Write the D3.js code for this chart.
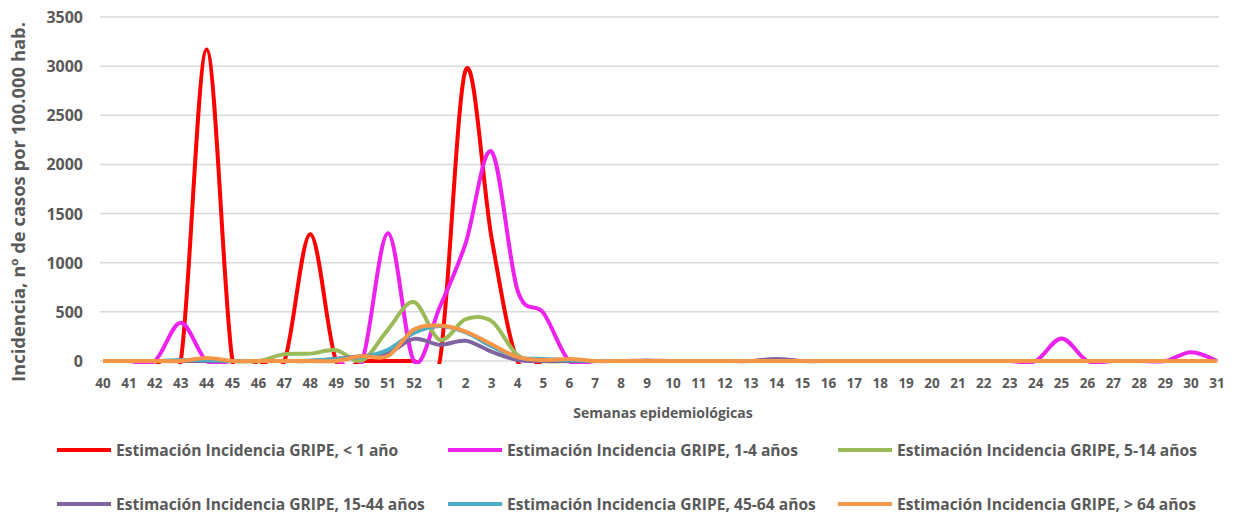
<!DOCTYPE html>
<html>
<head>
<meta charset="utf-8">
<script src="https://cdn.jsdelivr.net/npm/d3@7"></script>
<style>
  body { margin: 0; background: #fff; }
  text { font-family: "Open Sans", Lato, sans-serif; font-weight: bold; fill: #595959; }
</style>
</head>
<body>
<script>
// semanas epidemiológicas (40..52 y 1..31)
const semanas = [40,41,42,43,44,45,46,47,48,49,50,51,52,1,2,3,4,5,6,7,8,9,10,11,12,13,14,15,16,17,18,19,20,21,22,23,24,25,26,27,28,29,30,31];

// incidencia por grupo de edad
const menor1  = [0,0,0,0,3170,0,0,0,1290,0,0,0,0,0,2960,1250,0,0,0,0,0,0,0,0,0,0,0,0,0,0,0,0,0,0,0,0,0,0,0,0,0,0,0,0];
const de1a4   = [0,0,0,390,0,0,0,0,0,0,0,1300,0,550,1200,2130,720,490,0,0,0,0,0,0,0,0,0,0,0,0,0,0,0,0,0,0,0,230,0,0,0,0,90,0];
const de5a14  = [0,0,0,0,0,0,0,70,75,110,5,320,600,215,425,405,60,0,0,0,0,0,0,0,0,0,0,0,0,0,0,0,0,0,0,0,0,0,0,0,0,0,0,0];
const de15a44 = [0,0,0,0,0,0,0,0,0,20,50,80,225,165,205,95,10,0,0,0,0,5,0,0,0,0,20,0,0,0,0,0,0,0,0,0,0,0,0,0,0,0,0,0];
const de45a64 = [0,0,0,10,10,0,0,0,5,20,40,115,285,355,290,150,40,20,10,0,0,0,0,0,0,0,0,0,0,0,0,0,0,0,0,0,0,0,0,0,0,0,0,0];
const mayor64 = [0,0,0,0,30,0,0,0,0,0,50,50,320,360,300,170,40,10,20,0,0,0,0,0,0,0,0,0,0,0,0,0,0,0,0,0,0,0,0,0,0,0,0,0];

const nombres = ["Estimación Incidencia GRIPE, < 1 año","Estimación Incidencia GRIPE, 1-4 años","Estimación Incidencia GRIPE, 5-14 años",
                 "Estimación Incidencia GRIPE, 15-44 años","Estimación Incidencia GRIPE, 45-64 años","Estimación Incidencia GRIPE, > 64 años"];
const colores = ["#FF0000","#EE22EE","#9BBB59","#8064A2","#4BACC6","#F79646"];
const series = [menor1, de1a4, de5a14, de15a44, de45a64, mayor64];
const ticksY = [0,500,1000,1500,2000,2500,3000,3500];

const W = 1235, H = 513;
const svg = d3.select("body").append("svg").attr("width", W).attr("height", H);

const x = d3.scalePoint().domain(d3.range(semanas.length)).range([103, 1217]);
const y = d3.scaleLinear().domain([0, 3500]).range([361, 17]);

// recorte del área de trazado (como Excel)
svg.append("clipPath").attr("id", "zona")
  .append("rect").attr("x", 95).attr("y", 0).attr("width", 1130).attr("height", 364);

// grilla
svg.append("g").selectAll("line").data(ticksY).join("line")
  .attr("x1", 100).attr("x2", 1219)
  .attr("y1", d => y(d)).attr("y2", d => y(d))
  .attr("stroke", "#D9D9D9").attr("stroke-width", 1.5);

// eje Y
svg.append("g").selectAll("text").data(ticksY).join("text")
  .attr("x", 83).attr("y", d => y(d) + 6)
  .attr("text-anchor", "end").style("font-size", "16px")
  .text(d => d);

// eje X
svg.append("g").selectAll("text").data(semanas).join("text")
  .attr("x", (d, i) => x(i)).attr("y", 388)
  .attr("text-anchor", "middle").style("font-size", "13.5px")
  .text(d => d);

svg.append("text").attr("x", 663).attr("y", 418).attr("text-anchor", "middle")
  .style("font-size", "14px").text("Semanas epidemiológicas");

svg.append("text").attr("transform", "translate(25,202) rotate(-90)")
  .attr("text-anchor", "middle").style("font-size", "17px")
  .attr("textLength", 360).attr("lengthAdjust", "spacingAndGlyphs")
  .text("Incidencia, nº de casos por 100.000 hab.");

// líneas suavizadas
const linea = d3.line()
  .x((d, i) => x(i)).y(d => y(d))
  .curve(d3.curveCardinal.tension(0));

svg.append("g").attr("clip-path", "url(#zona)")
  .selectAll("path").data(series).join("path")
  .attr("d", linea)
  .attr("fill", "none")
  .attr("stroke", (d, i) => colores[i])
  .attr("stroke-width", 4)
  .attr("stroke-linejoin", "round");

// leyenda
const legX = [57, 448, 838];
const legY = [450, 504];
const ley = svg.append("g").selectAll("g").data(nombres).join("g")
  .attr("transform", (d, i) => `translate(${legX[i % 3]},${legY[Math.floor(i / 3)]})`);
ley.append("line").attr("x1", 0).attr("x2", 54)
  .attr("stroke", (d, i) => colores[i]).attr("stroke-width", 4);
ley.append("text").attr("x", 59).attr("y", 5.5).style("font-size", "15.6px").text(d => d);
</script>
</body>
</html>
